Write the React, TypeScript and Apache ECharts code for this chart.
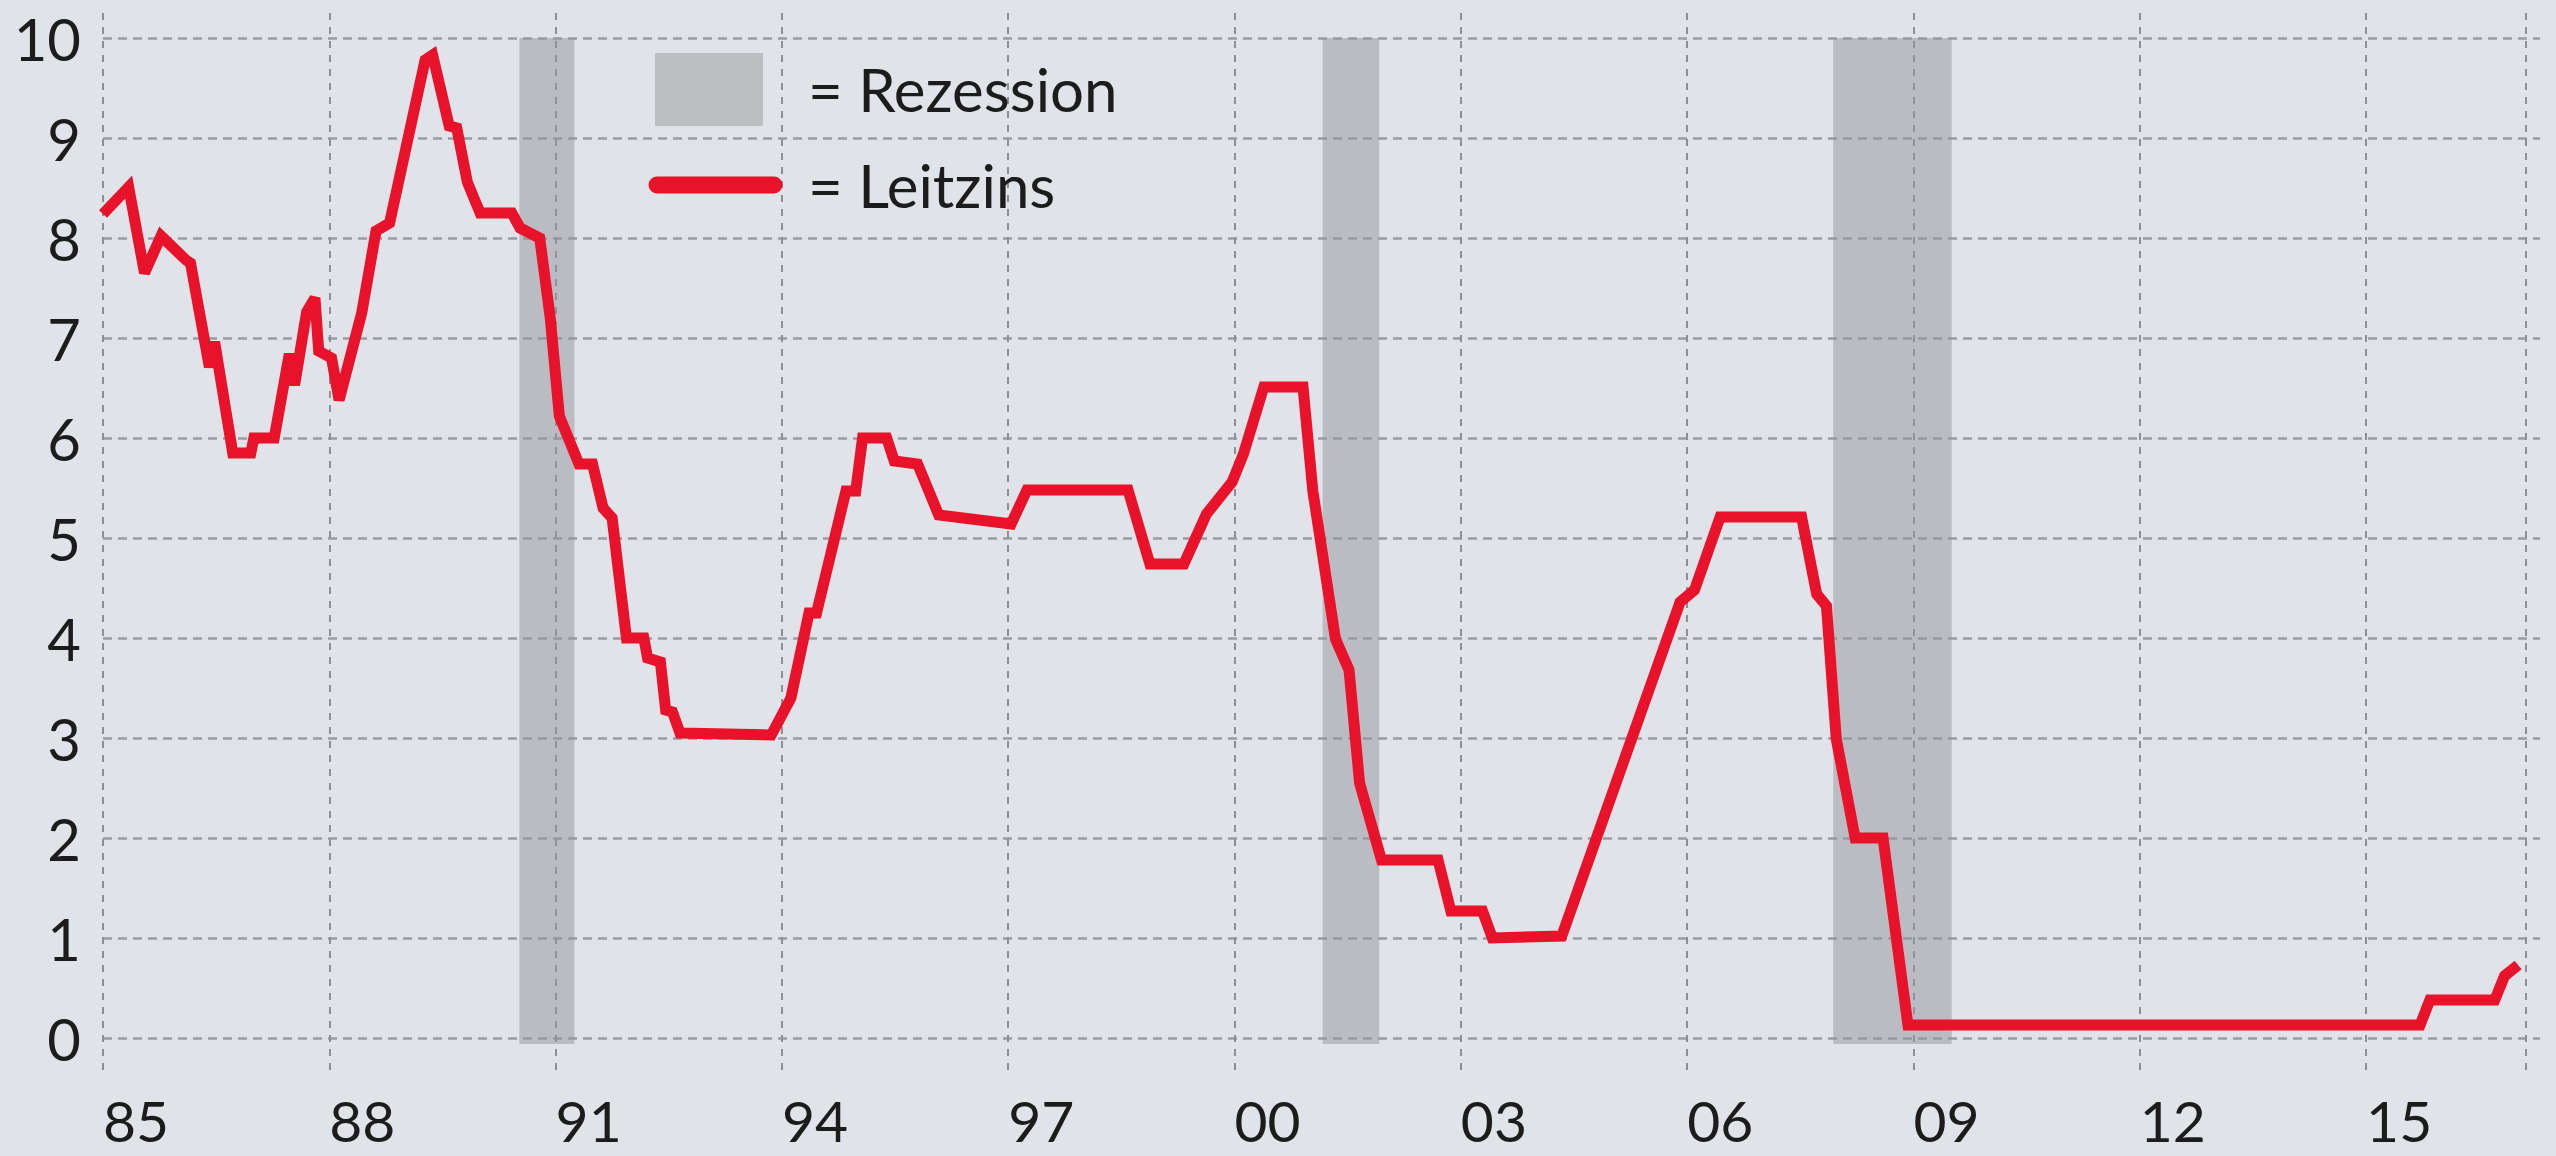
import React, { useEffect, useRef } from "react";
import * as echarts from "echarts";

// Leitzins (Fed funds rate), decimal year -> percent
const dates = [
  1985.0, 1985.34, 1985.55, 1985.77, 1986.1, 1986.16, 1986.41, 1986.48, 1986.72, 1986.96,
  1987.0, 1987.27, 1987.47, 1987.54, 1987.7, 1987.81, 1987.86, 1988.03, 1988.13, 1988.43,
  1988.62, 1988.8, 1989.27, 1989.37, 1989.59, 1989.69, 1989.83, 1990.0, 1990.42, 1990.53,
  1990.79, 1990.93, 1991.05, 1991.31, 1991.49, 1991.63, 1991.75, 1991.94, 1992.17, 1992.22,
  1992.39, 1992.46, 1992.55, 1992.65, 1993.86, 1994.12, 1994.36, 1994.46, 1994.85, 1994.98,
  1995.07, 1995.39, 1995.49, 1995.8, 1996.08, 1997.04, 1997.25, 1998.59, 1998.88, 1999.33,
  1999.63, 1999.97, 2000.12, 2000.39, 2000.91, 2001.04, 2001.15, 2001.34, 2001.52, 2001.66,
  2001.95, 2002.7, 2002.87, 2003.29, 2003.42, 2004.34, 2005.91, 2006.1, 2006.44, 2007.52,
  2007.72, 2007.85, 2007.98, 2008.23, 2008.6, 2008.93, 2015.72, 2015.85, 2016.71, 2016.84,
  2017.02,
];
const leitzins = [
  8.24, 8.51, 7.65, 8.02, 7.78, 7.75, 6.71, 6.96, 5.85, 5.85,
  6.0, 6.0, 6.84, 6.53, 7.26, 7.4, 6.87, 6.8, 6.38, 7.25,
  8.07, 8.15, 9.78, 9.83, 9.12, 9.1, 8.56, 8.25, 8.25, 8.1,
  8.0, 7.2, 6.22, 5.74, 5.74, 5.3, 5.2, 4.0, 4.0, 3.8,
  3.76, 3.28, 3.26, 3.05, 3.03, 3.4, 4.25, 4.25, 5.47, 5.47,
  6.0, 6.0, 5.77, 5.74, 5.23, 5.14, 5.48, 5.48, 4.74, 4.74,
  5.24, 5.56, 5.84, 6.51, 6.51, 5.47, 4.93, 3.99, 3.68, 2.55,
  1.78, 1.78, 1.27, 1.27, 1.0, 1.02, 4.36, 4.48, 5.21, 5.21,
  4.44, 4.32, 2.99, 2.0, 2.0, 0.13, 0.13, 0.38, 0.38, 0.62,
  0.73,
];

// Rezessionen (start / end, decimal year)
const recessionStart = [1990.52, 2001.17, 2007.94];
const recessionEnd = [1991.25, 2001.92, 2009.51];

// Axes
const xMin = 1985;
const xMax = 2017.31;
const xStep = 3;
const lastGridYear = 2017.12;
const yMin = 0;
const yMax = 10;
const yStep = 1;
const recessionBottom = -0.06;

const legendLabels = ["= Rezession", "= Leitzins"];

const BG = "#e0e3e8";
const RED = "#e8122b";
const TEXT = "#1c1c1c";
const FONT = "Lato, 'Open Sans', sans-serif";

export default function App() {
  const ref = useRef<HTMLDivElement>(null);

  useEffect(() => {
    if (!ref.current) return;
    const chart = echarts.init(ref.current, undefined, { renderer: "svg" });

    const option: any = {
      animation: false,
      backgroundColor: BG,
      grid: [
        { left: 103, right: 16, top: 38, bottom: 118, containLabel: false },
        { left: 103, right: 30, top: 13, bottom: 80, containLabel: false },
      ],
      xAxis: [
        {
          type: "value",
          gridIndex: 0,
          min: xMin,
          max: xMax,
          show: false,
          splitLine: { show: false },
        },
        {
          type: "value",
          gridIndex: 1,
          min: xMin,
          max: lastGridYear,
          interval: xStep,
          axisLine: { show: false },
          axisTick: { show: false },
          splitLine: {
            show: true,
            lineStyle: { type: [7, 7], color: "#8c9095", width: 2 },
          },
          axisLabel: {
            show: true,
            showMaxLabel: false,
            align: "left",
            verticalAlign: "middle",
            margin: 44,
            lineHeight: 50,
            fontSize: 57,
            fontFamily: FONT,
            color: TEXT,
            formatter: (v: number) => String(Math.round(v) % 100).padStart(2, "0"),
          },
        },
      ],
      yAxis: [
        {
          type: "value",
          gridIndex: 0,
          min: yMin,
          max: yMax,
          interval: yStep,
          axisLine: { show: false },
          axisTick: { show: false },
          splitLine: {
            show: true,
            lineStyle: { type: [9, 6], color: "#999ca1", width: 2.5 },
          },
          axisLabel: {
            margin: 22,
            fontSize: 58,
            fontFamily: FONT,
            color: TEXT,
          },
        },
        {
          type: "value",
          gridIndex: 1,
          min: 0,
          max: 1,
          show: false,
          splitLine: { show: false },
        },
      ],
      series: [
        {
          type: "custom",
          xAxisIndex: 0,
          yAxisIndex: 0,
          clip: false,
          silent: true,
          z: 1,
          data: recessionStart.map((s, i) => [s, recessionEnd[i]]),
          renderItem: (params: any, api: any) => {
            const p0 = api.coord([api.value(0), yMax]);
            const p1 = api.coord([api.value(1), recessionBottom]);
            return {
              type: "rect",
              shape: { x: p0[0], y: p0[1], width: p1[0] - p0[0], height: p1[1] - p0[1] },
              style: { fill: "rgba(150,150,153,0.5)" },
            };
          },
        },
        {
          type: "line",
          name: "Leitzins",
          xAxisIndex: 0,
          yAxisIndex: 0,
          symbol: "none",
          showSymbol: false,
          z: 3,
          data: dates.map((d, i) => [d, leitzins[i]]),
          lineStyle: { color: RED, width: 11, join: "miter", miterLimit: 3, cap: "butt" },
        },
      ],
      graphic: [
        {
          type: "rect",
          shape: { x: 655, y: 53, width: 108, height: 73 },
          style: { fill: "#bdbec2" },
          z: 10,
        },
        {
          type: "line",
          shape: { x1: 657, y1: 185, x2: 774, y2: 185 },
          style: { stroke: RED, lineWidth: 17, lineCap: "round" },
          z: 10,
        },
        {
          type: "text",
          x: 808,
          y: 89,
          style: {
            text: legendLabels[0],
            font: `60px ${FONT}`,
            fill: TEXT,
            textVerticalAlign: "middle",
            verticalAlign: "middle",
          },
          z: 10,
        },
        {
          type: "text",
          x: 808,
          y: 185,
          style: {
            text: legendLabels[1],
            font: `60px ${FONT}`,
            fill: TEXT,
            textVerticalAlign: "middle",
            verticalAlign: "middle",
          },
          z: 10,
        },
      ],
    };

    chart.setOption(option);
    return () => chart.dispose();
  }, []);

  return (
    <div
      ref={ref}
      style={{
        position: "absolute",
        left: 0,
        top: 0,
        width: 2556,
        height: 1156,
        background: BG,
      }}
    />
  );
}
